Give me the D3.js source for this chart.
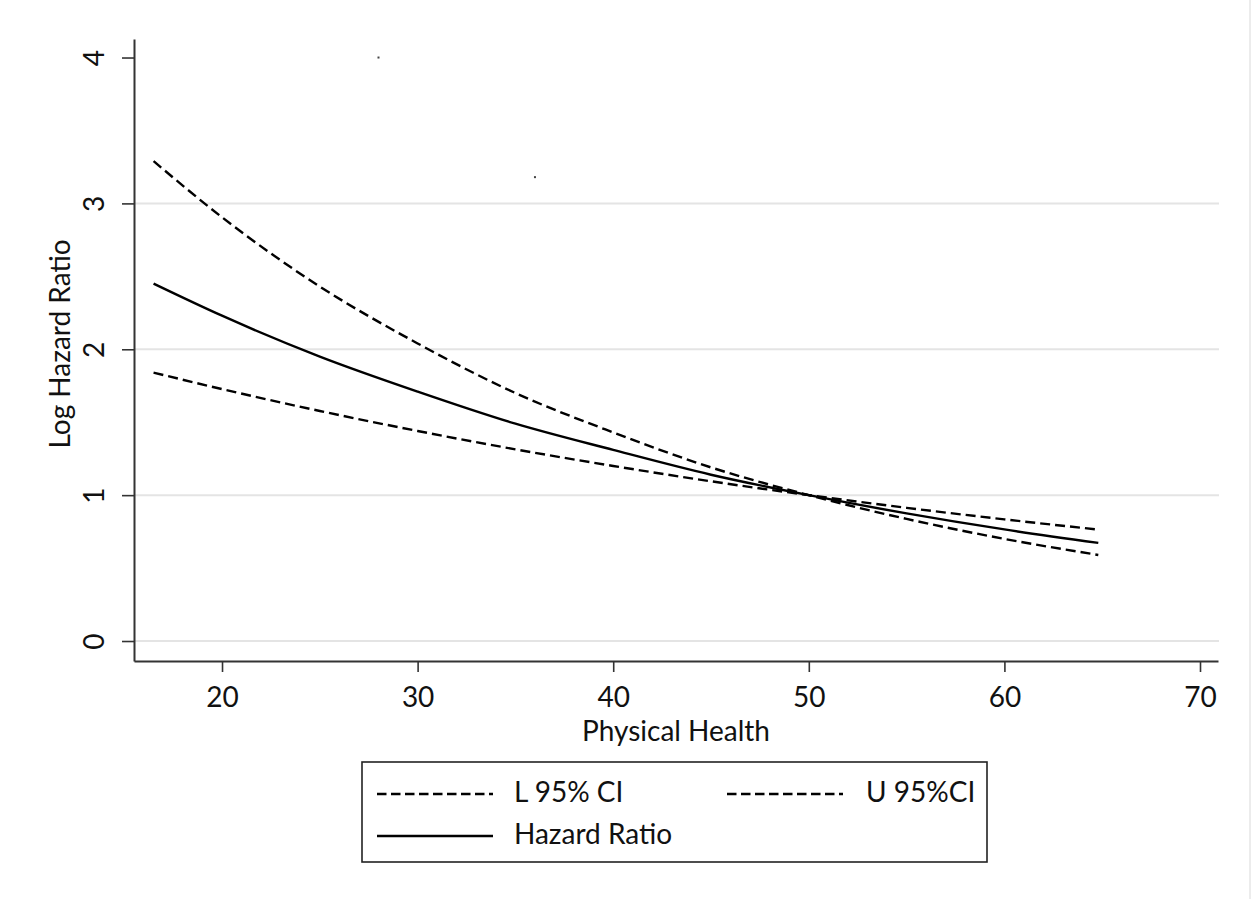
<!DOCTYPE html>
<html><head><meta charset="utf-8">
<script src="https://cdn.jsdelivr.net/npm/d3@7"></script>
<style>body{margin:0;background:#fff}svg text{font-family:Lato,"Open Sans",sans-serif;fill:#111}</style>
</head><body>
<svg id="c" width="1258" height="899"></svg>
<script>
// ---- data ----
const xValues     = [16.5, 20, 25, 30, 35, 40, 45, 50, 55, 60, 64.8];
const hazardRatio = [2.45, 2.23, 1.95, 1.71, 1.49, 1.31, 1.14, 1.00, 0.875, 0.765, 0.673];
const lowerCI     = [1.84, 1.727, 1.577, 1.44, 1.314, 1.20, 1.095, 1.00, 0.913, 0.834, 0.764];
const upperCI     = [3.29, 2.905, 2.43, 2.04, 1.70, 1.43, 1.19, 1.00, 0.837, 0.70, 0.59];
const xTicks = [20, 30, 40, 50, 60, 70];
const yTicks = [0, 1, 2, 3, 4];
const gridValues = [0, 1, 2, 3];
const strayX = [28, 36];
const strayY = [4.0, 3.18];
const legendLabels = ["L 95% CI", "U 95%CI", "Hazard Ratio"];
const xTitle = "Physical Health";
const yTitle = "Log Hazard Ratio";

const svg = d3.select("#c");
const x = d3.scaleLinear().domain([15.5, 70.92]).range([134, 1218]);
const y = d3.scaleLinear().domain([-0.137, 4.127]).range([661, 39]);
const FS = 28;

// faint page edge
svg.append("line").attr("x1",1250).attr("x2",1250).attr("y1",0).attr("y2",899)
  .attr("stroke","#ececec").attr("stroke-width",2);

// gridlines
svg.append("g").selectAll("line").data(gridValues).join("line")
  .attr("x1", x.range()[0]).attr("x2", x.range()[1]+1)
  .attr("y1", d=>y(d)).attr("y2", d=>y(d))
  .attr("stroke", "#e4e4e4").attr("stroke-width", 2);

// axes
const yAxis = svg.append("g").attr("transform", `translate(${x.range()[0]},0)`)
  .call(d3.axisLeft(y).tickValues(yTicks).tickFormat(d3.format("d")).tickSize(12).tickSizeOuter(0));
yAxis.selectAll("text").attr("transform","rotate(-90)").attr("x",0).attr("y",-30)
  .attr("dy",0).attr("text-anchor","middle").style("font-size",FS+"px");
const xAxis = svg.append("g").attr("transform", `translate(0,${y.range()[0]})`)
  .call(d3.axisBottom(x).tickValues(xTicks).tickFormat(d3.format("d")).tickSize(11).tickSizeOuter(0));
xAxis.selectAll("text").attr("y",46).attr("dy",0).style("font-size",FS+"px");
[yAxis,xAxis].forEach(a=>{
  a.selectAll("path,line").attr("stroke","#333").attr("stroke-width",1.6);
  a.select(".domain").attr("stroke-width",2);
});

// titles
svg.append("text").attr("x",(x.range()[0]+x.range()[1])/2).attr("y",741)
  .attr("text-anchor","middle").style("font-size",FS+"px").text(xTitle);
svg.append("text").attr("transform",`translate(70,344) rotate(-90)`)
  .attr("text-anchor","middle").style("font-size",FS+"px").text(yTitle);

// curves
const series = [
  {vals: lowerCI, dash: "10,5"},
  {vals: upperCI, dash: "10,5"},
  {vals: hazardRatio, dash: null}
];
const line = d3.line().x(d=>x(d[0])).y(d=>y(d[1])).curve(d3.curveMonotoneX);
series.forEach(s=>{
  svg.append("path").datum(xValues.map((v,i)=>[v, s.vals[i]]))
    .attr("d", line).attr("fill","none").attr("stroke","#000")
    .attr("stroke-width",2.4).attr("stroke-dasharray", s.dash);
});

// stray specks
svg.append("g").selectAll("rect").data(strayX).join("rect")
  .attr("x",(d)=>x(d)-1).attr("y",(d,i)=>y(strayY[i])-1).attr("width",2).attr("height",2)
  .attr("fill","#444");

// legend
const lg = svg.append("g");
lg.append("rect").attr("x",362).attr("y",762).attr("width",625).attr("height",100)
  .attr("fill","#fff").attr("stroke","#222").attr("stroke-width",1.6);
const items = [
  {lx:377, ly:794, tx:514, ty:802, dash:"9.5,4.5"},
  {lx:727, ly:794, tx:866, ty:802, dash:"9.5,4.5"},
  {lx:377, ly:836, tx:514, ty:844, dash:null}
];
items.forEach((it,i)=>{
  lg.append("line").attr("x1",it.lx).attr("x2",it.lx+116).attr("y1",it.ly).attr("y2",it.ly)
    .attr("stroke","#000").attr("stroke-width",2.4).attr("stroke-dasharray",it.dash);
  lg.append("text").attr("x",it.tx).attr("y",it.ty).style("font-size",FS+"px").text(legendLabels[i]);
});
</script>
</body></html>
